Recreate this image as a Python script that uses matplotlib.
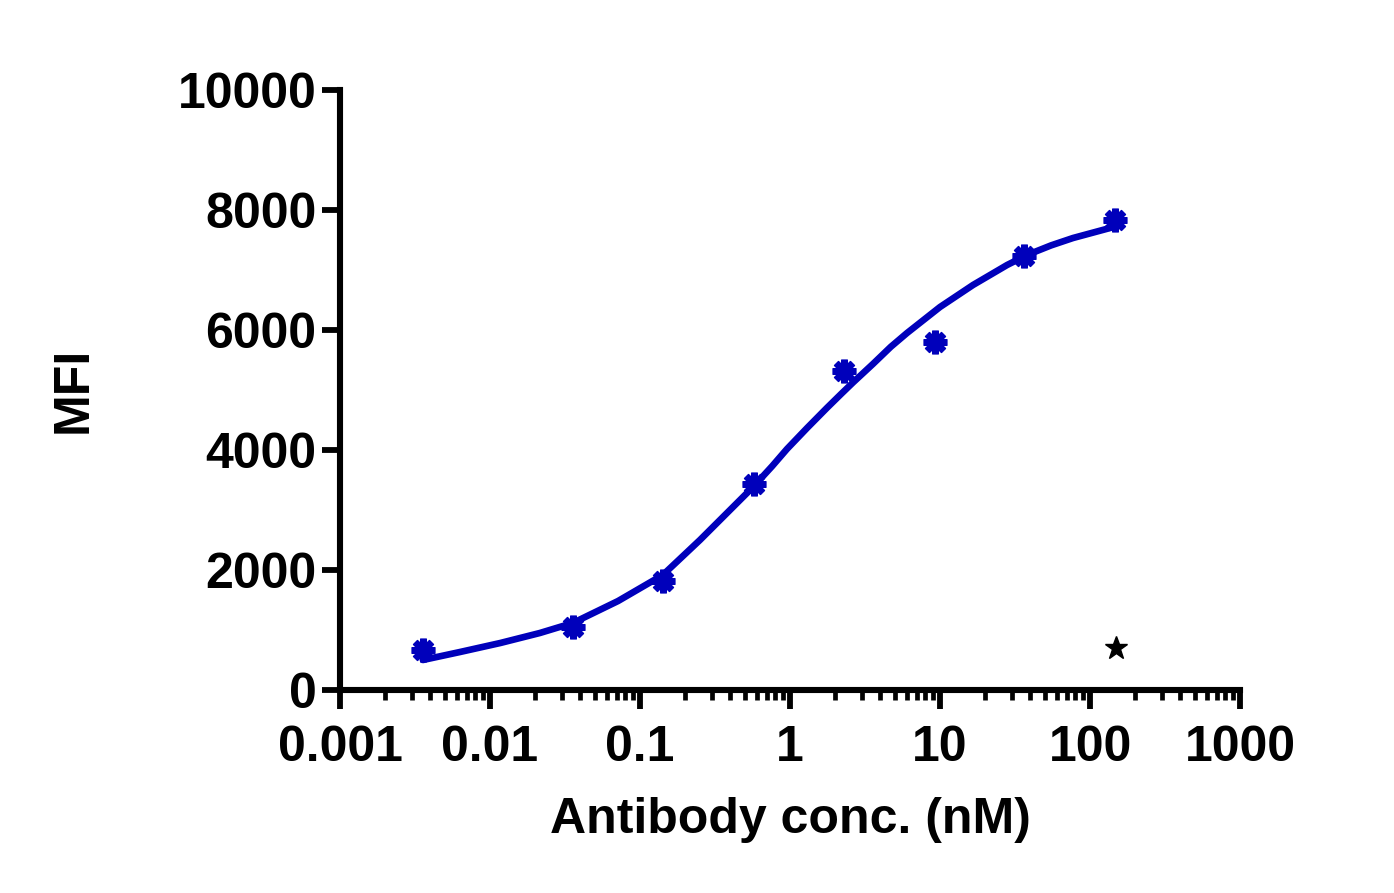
import matplotlib
matplotlib.use('Agg')
import matplotlib.pyplot as plt
from matplotlib.ticker import LogLocator, NullFormatter

plt.rcParams['font.family'] = ['Liberation Sans', 'DejaVu Sans']
plt.rcParams['font.weight'] = 'bold'

# measured points (antibody conc. in nM, MFI)
conc = [0.0036, 0.0357, 0.142, 0.575, 2.29, 9.26, 36.3, 147]
mfi = [667, 1050, 1817, 3433, 5317, 5800, 7233, 7833]

# fitted curve
curve_x = [0.00357, 0.0063, 0.0117, 0.0215, 0.0357, 0.0714, 0.142, 0.251,
           0.417, 0.567, 0.76, 0.955, 1.3, 1.76, 2.19, 2.63, 3.57, 4.7, 6.03,
           10, 16.6, 28, 38, 55, 77, 136, 151]
curve_y = [500, 633, 783, 950, 1117, 1483, 1917, 2500,
           3050, 3383, 3730, 4017, 4367, 4700, 4933, 5125, 5433, 5720, 5950,
           6383, 6750, 7083, 7250, 7410, 7533, 7700, 7733]

# control point
ctrl_x = [150]
ctrl_y = [700]

x_ticks = [0.001, 0.01, 0.1, 1, 10, 100, 1000]
x_labels = ['0.001', '0.01', '0.1', '1', '10', '100', '1000']
y_ticks = [0, 2000, 4000, 6000, 8000, 10000]

blue = '#0000BB'

fig = plt.figure(figsize=(13.94, 8.93), dpi=100)
ax = fig.add_axes([340 / 1394, 1 - 690 / 893, 900 / 1394, 600 / 893])

ax.plot(curve_x, curve_y, color=blue, lw=4.8, solid_capstyle='round',
        solid_joinstyle='round', zorder=2)
ax.plot(conc, mfi, linestyle='none', marker=(8, 2, 0), ms=17, mew=4.8,
        color=blue, zorder=3)
ax.plot(ctrl_x, ctrl_y, linestyle='none', marker='*', ms=17, color='black',
        zorder=3)

ax.set_xscale('log')
ax.set_xlim(0.001, 1000)
ax.set_ylim(0, 10000)
ax.set_xticks(x_ticks)
ax.set_xticklabels(x_labels)
ax.xaxis.set_minor_locator(LogLocator(base=10, subs=range(2, 10), numticks=20))
ax.xaxis.set_minor_formatter(NullFormatter())
ax.set_yticks(y_ticks)
ax.set_yticklabels([str(v) for v in y_ticks])

for side in ['top', 'right']:
    ax.spines[side].set_visible(False)
for side in ['left', 'bottom']:
    ax.spines[side].set_linewidth(4.4)
    ax.spines[side].set_capstyle('projecting')

ax.tick_params(axis='both', which='major', length=13, width=4.2,
               labelsize=36, pad=4)
ax.tick_params(axis='x', which='minor', length=7, width=3.4)
ax.tick_params(axis='x', which='major', length=14, pad=11)

for lab in ax.get_xticklabels() + ax.get_yticklabels():
    lab.set_fontweight('bold')

ax.set_xlabel('Antibody conc. (nM)', fontsize=36, fontweight='bold', labelpad=19)
ax.set_ylabel('MFI', fontsize=36, fontweight='bold', labelpad=58)

fig.savefig('out.png', dpi=100)
